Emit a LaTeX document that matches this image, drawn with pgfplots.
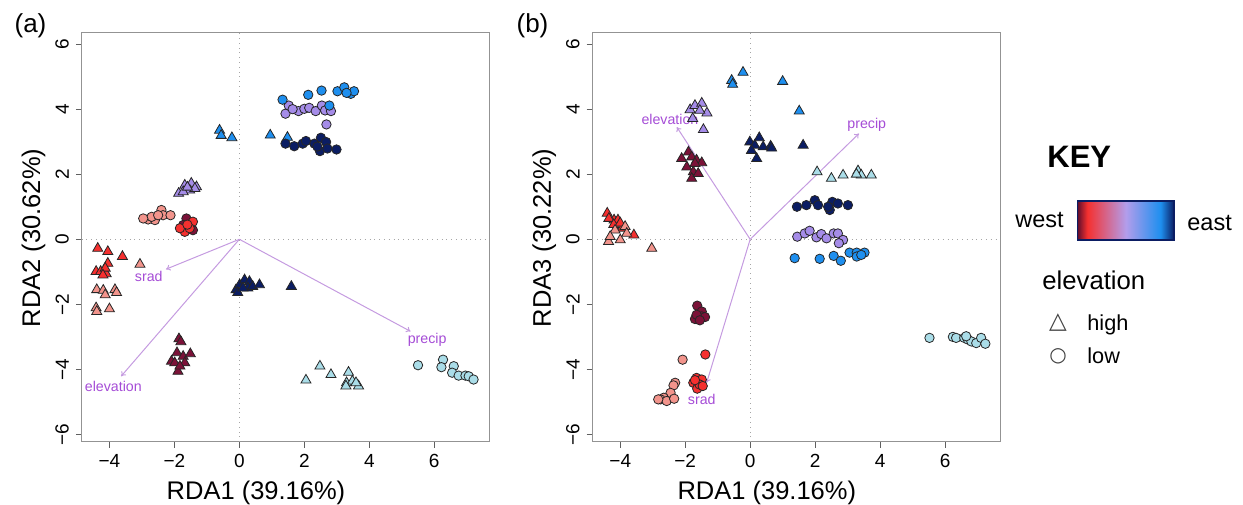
\documentclass[border=0pt]{standalone}
\usepackage{fontspec}
\setmainfont{Liberation Sans}
\newfontfamily\symfont{DejaVu Sans}
\usepackage{pgfplots}
\pgfplotsset{compat=1.18}
\usetikzlibrary{arrows.meta}

\definecolor{cMar}{HTML}{7B1238}
\definecolor{cRed}{HTML}{F5302F}
\definecolor{cSal}{HTML}{F2948C}
\definecolor{cLav}{HTML}{A58CE8}
\definecolor{cBlu}{HTML}{1E8FEF}
\definecolor{cNav}{HTML}{0B1D63}
\definecolor{cLbl}{HTML}{AADDE8}
\definecolor{vecline}{HTML}{C59BE0}
\definecolor{vectext}{HTML}{A54CD6}

\pgfdeclarehorizontalshading{wegrad}{100bp}{color(0bp)=(cMar); color(25bp)=(cMar!80!black); color(30bp)=(cRed); color(50bp)=(cLav!85!white); color(68bp)=(cBlu); color(75bp)=(cNav); color(100bp)=(cNav)}

\pgfplotsset{
  rda/.style={
    scale only axis, width=204pt, height=204.5pt,
    xmin=-4.86, xmax=7.70, ymin=-6.23, ymax=6.34,
    axis line style={draw=gray!85, line width=0.5pt},
    tick align=outside, major tick length=2.8pt,
    xtick pos=bottom, ytick pos=left,
    tick style={draw=gray!75!black, line width=0.5pt},
    xtick={-4,-2,0,2,4,6}, xticklabels={−4,−2,0,2,4,6},
    ytick={-6,-4,-2,0,2,4,6}, yticklabels={−6,−4,−2,0,2,4,6},
    yticklabel style={rotate=90, anchor=south},
    ticklabel style={font=\fontsize{9.5}{10}\selectfont},
    extra x ticks={0}, extra y ticks={0},
    extra x tick labels={}, extra y tick labels={},
    extra tick style={grid=major, major tick length=0pt,
      major grid style={gray!70, dotted, line width=0.5pt}},
  },
  tri/.style={only marks, mark=triangle*, mark size=2.9pt,
    mark options={fill=#1, draw=black!85, line width=0.4pt}},
  cir/.style={only marks, mark=*, mark size=2.35pt,
    mark options={fill=#1, draw=black!85, line width=0.4pt}},
  vec/.style={vecline, line width=0.5pt, -{To[length=2.2pt,width=3pt]}},
}

\begin{document}
\begin{tikzpicture}
\useasboundingbox (0,0) rectangle (621.5pt,252pt);

% ---------- panel (a)
\begin{axis}[rda, at={(40.75pt,31pt)}, anchor=south west]
\addplot[tri=cRed] coordinates {(-4.36,-0.28) (-4.05,-0.38) (-3.60,-0.53) (-4.05,-0.74) (-4.41,-0.99) (-4.27,-0.99) (-4.10,-1.06) (-4.13,-0.89) (-4.2,-1.1)};
\addplot[tri=cSal] coordinates {(-3.06,-0.77) (-4.39,-1.55) (-4.19,-1.57) (-3.83,-1.55) (-3.78,-1.64) (-4.13,-1.71) (-4.41,-2.11) (-4.39,-2.22) (-4.0,-2.14)};
\addplot[tri=cMar] coordinates {(-1.86,-3.06) (-2.09,-3.75) (-1.92,-3.49) (-1.73,-3.60) (-1.51,-3.52) (-1.89,-4.06) (-1.99,-3.80) (-1.68,-3.80) (-1.83,-3.90) (-1.80,-3.15)};
\addplot[tri=cLav] coordinates {(-1.87,1.41) (-1.68,1.66) (-1.48,1.72) (-1.32,1.61) (-1.53,1.51) (-1.73,1.46) (-1.37,1.56) (-1.6,1.6)};
\addplot[tri=cBlu] coordinates {(-0.61,3.35) (-0.56,3.19) (-0.23,3.12) (0.95,3.2) (1.48,3.13)};
\addplot[tri=cNav] coordinates {(-0.10,-1.55) (0.01,-1.40) (0.16,-1.25) (0.31,-1.30) (0.26,-1.50) (0.41,-1.45) (0.62,-1.40) (-0.05,-1.64) (0.11,-1.50) (1.6,-1.45)};
\addplot[tri=cLbl] coordinates {(2.05,-4.33) (2.48,-3.90) (2.82,-4.16) (3.36,-4.09) (3.30,-4.41) (3.48,-4.36) (3.67,-4.51) (3.28,-4.51) (3.59,-4.41)};
\addplot[cir=cSal] coordinates {(-2.81,0.61) (-2.60,0.59) (-2.40,0.90) (-2.35,0.74) (-2.12,0.74) (-2.70,0.69) (-2.50,0.74) (-2.96,0.64)};
\addplot[cir=cMar] coordinates {(-1.63,0.64) (-1.43,0.28) (-1.73,0.44)};
\addplot[cir=cRed] coordinates {(-1.68,0.23) (-1.43,0.54) (-1.83,0.34) (-1.53,0.34) (-1.6,0.45)};
\addplot[cir=cLav] coordinates {(1.42,3.86) (1.52,4.11) (1.82,3.94) (2.0,4.01) (2.15,4.04) (2.35,3.94) (2.54,4.11) (2.64,3.96) (2.82,3.94) (2.68,3.53) (1.64,4.0)};
\addplot[cir=cBlu] coordinates {(1.33,4.29) (2.12,4.44) (2.53,4.57) (3.02,4.55) (3.23,4.67) (3.43,4.47) (3.53,4.55) (2.77,4.11) (3.3,4.5)};
\addplot[cir=cNav] coordinates {(1.42,2.94) (1.69,2.86) (1.95,2.94) (2.05,3.02) (2.31,2.94) (2.51,3.12) (2.67,2.99) (2.48,2.71) (2.71,2.79) (2.99,2.76) (2.4,2.85)};
\addplot[cir=cLbl] coordinates {(5.5,-3.87) (6.27,-3.70) (6.22,-3.93) (6.6,-3.90) (6.55,-4.10) (6.75,-4.19) (6.96,-4.19) (7.06,-4.21) (7.21,-4.31)};
% biplot vectors
\addplot[vec] coordinates {(0,0) (-2.26,-0.92)};
\addplot[vec] coordinates {(0,0) (-3.64,-4.21)};
\addplot[vec] coordinates {(0,0) (5.27,-2.83)};
\node[vectext, font=\fontsize{7.1}{8}\selectfont] at (axis cs:-2.79,-1.15) {srad};
\node[vectext, font=\fontsize{7.1}{8}\selectfont] at (axis cs:-3.88,-4.51) {elevation};
\node[vectext, font=\fontsize{7.1}{8}\selectfont] at (axis cs:5.78,-3.08) {precip};
\end{axis}

% ---------- panel (b)
\begin{axis}[rda, at={(296.15pt,31pt)}, anchor=south west]
\addplot[tri=cRed] coordinates {(-4.40,0.80) (-4.19,0.59) (-4.07,0.59) (-4.35,0.64) (-3.58,0.13) (-3.94,0.34) (-4.2,0.45) (-4.0,0.5)};
\addplot[tri=cSal] coordinates {(-4.36,-0.07) (-4.16,0.28) (-4.0,-0.02) (-3.85,0.39) (-3.80,0.18) (-3.03,-0.28) (-4.31,0.08)};
\addplot[tri=cMar] coordinates {(-2.11,2.48) (-1.90,2.68) (-1.80,2.53) (-1.65,2.43) (-1.49,2.35) (-1.95,2.22) (-1.75,2.07) (-1.80,1.87) (-1.60,2.02) (-1.70,2.33)};
\addplot[tri=cLav] coordinates {(-1.85,3.98) (-1.70,4.11) (-1.49,4.18) (-1.33,3.88) (-1.77,3.71) (-1.44,3.37) (-1.55,3.96)};
\addplot[tri=cBlu] coordinates {(-0.57,4.88) (-0.54,4.76) (-0.22,5.13) (1.0,4.85) (1.51,3.94)};
\addplot[tri=cNav] coordinates {(-0.01,2.99) (0.14,2.89) (0.28,3.12) (0.40,2.84) (0.63,2.86) (0.20,2.48) (0.04,2.73) (1.63,2.89) (0.66,2.8)};
\addplot[tri=cLbl] coordinates {(2.06,2.07) (2.50,1.87) (2.86,1.97) (3.32,2.10) (3.42,1.97) (3.73,1.97) (3.27,2.0)};
\addplot[cir=cNav] coordinates {(1.44,1.0) (1.73,1.05) (1.99,1.20) (2.09,1.05) (2.45,0.90) (2.53,1.15) (2.70,1.10) (3.01,1.05) (2.40,1.0)};
\addplot[cir=cLav] coordinates {(1.45,0.08) (1.68,0.18) (1.83,0.26) (2.04,0.06) (2.19,0.16) (2.35,0.03) (2.57,0.18) (2.70,0.18) (2.86,-0.02) (2.73,-0.12)};
\addplot[cir=cBlu] coordinates {(1.37,-0.58) (2.14,-0.60) (2.57,-0.51) (2.79,-0.66) (3.06,-0.41) (3.28,-0.41) (3.28,-0.53) (3.52,-0.41) (3.42,-0.48)};
\addplot[cir=cLbl] coordinates {(5.52,-3.03) (6.24,-3.0) (6.34,-3.03) (6.59,-3.03) (6.70,-3.08) (6.81,-3.14) (6.96,-3.19) (7.11,-3.03) (7.24,-3.21) (6.65,-2.98)};
\addplot[cir=cMar] coordinates {(-1.63,-2.04) (-1.49,-2.22) (-1.70,-2.45) (-1.49,-2.37) (-1.39,-2.39) (-1.65,-2.32) (-1.55,-2.49)};
\addplot[cir=cSal] coordinates {(-2.08,-3.70) (-2.31,-4.41) (-2.36,-4.49) (-2.45,-4.72) (-2.66,-4.87) (-2.76,-4.92) (-2.57,-4.97) (-2.34,-4.90) (-2.83,-4.92)};
\addplot[cir=cRed] coordinates {(-1.38,-3.54) (-1.65,-4.26) (-1.49,-4.31) (-1.75,-4.41) (-1.63,-4.59) (-1.56,-4.46) (-1.46,-4.51) (-1.70,-4.33)};
\addplot[vec] coordinates {(0,0) (-2.26,3.45)};
\addplot[vec] coordinates {(0,0) (3.35,3.25)};
\addplot[vec] coordinates {(0,0) (-1.34,-4.41)};
\node[vectext, font=\fontsize{7.1}{8}\selectfont] at (axis cs:-2.47,3.68) {elevation};
\node[vectext, font=\fontsize{7.1}{8}\selectfont] at (axis cs:3.59,3.52) {precip};
\node[vectext, font=\fontsize{7.1}{8}\selectfont] at (axis cs:-1.49,-4.92) {srad};
\end{axis}

% ---------- panel tags and axis titles
\node[font=\fontsize{13}{14}\selectfont] at (15.25pt,239.25pt) {(a)};
\node[font=\fontsize{13}{14}\selectfont] at (266.25pt,239.25pt) {(b)};
\node[font=\fontsize{12.75}{14}\selectfont, anchor=base, inner sep=0pt] at (128pt,2.5pt) {RDA1 (39.16\%)};
\node[font=\fontsize{12.75}{14}\selectfont, anchor=base, inner sep=0pt] at (383.4pt,2.5pt) {RDA1 (39.16\%)};
\node[font=\fontsize{12.75}{14}\selectfont, anchor=base, inner sep=0pt, rotate=90] at (20pt,133pt) {RDA2 (30.62\%)};
\node[font=\fontsize{12.75}{14}\selectfont, anchor=base, inner sep=0pt, rotate=90] at (275.4pt,133pt) {RDA3 (30.22\%)};

% ---------- key
\node[font=\bfseries\fontsize{15.5}{17}\selectfont, anchor=base west, inner sep=0pt] at (523.5pt,168pt) {KEY};
\shade[shading=wegrad] (538.85pt,132pt) rectangle (587pt,151.5pt);
\draw[cNav, line width=0.6pt] (538.85pt,132pt) rectangle (587pt,151.5pt);
\node[font=\fontsize{11.75}{13}\selectfont, anchor=base west, inner sep=0pt] at (507.5pt,138.35pt) {west};
\node[font=\fontsize{11.75}{13}\selectfont, anchor=base west, inner sep=0pt] at (593.5pt,136.65pt) {east};
\node[font=\fontsize{12.85}{14}\selectfont, anchor=base west, inner sep=0pt] at (521pt,107pt) {elevation};
\node[font=\symfont\fontsize{11.5}{12}\selectfont, text=black!75, inner sep=0pt] at (529pt,90.5pt) {△};
\node[font=\symfont\fontsize{10}{12}\selectfont, text=black!75, inner sep=0pt] at (529pt,74pt) {○};
\node[font=\fontsize{10.85}{12}\selectfont, anchor=base west, inner sep=0pt] at (543.5pt,86.65pt) {high};
\node[font=\fontsize{10.85}{12}\selectfont, anchor=base west, inner sep=0pt] at (543.5pt,70.35pt) {low};
\end{tikzpicture}
\end{document}
